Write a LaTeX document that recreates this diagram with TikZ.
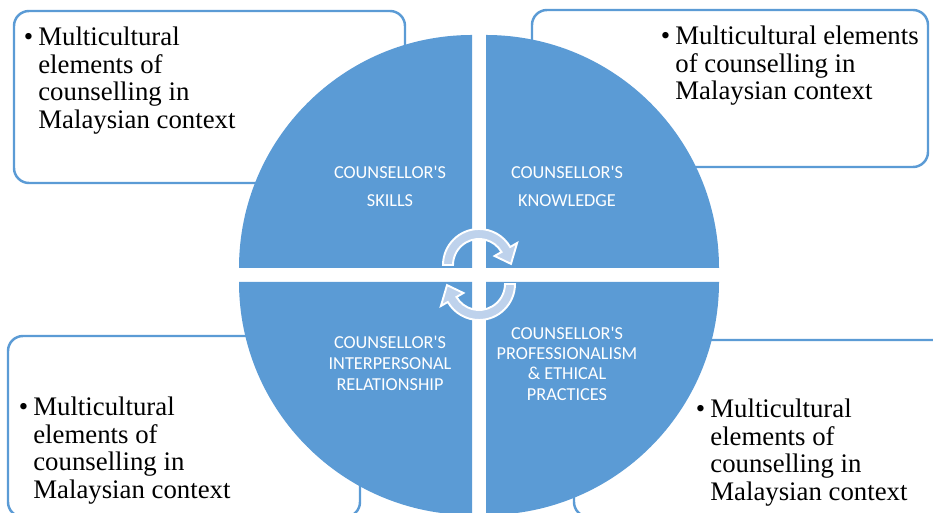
\documentclass[tikz,border=0pt]{standalone}
\usepackage{fontspec}
\setmainfont{Liberation Serif}
\newfontfamily\quadfont{Carlito}
\definecolor{quadblue}{RGB}{91,155,213}
\definecolor{cyclefill}{RGB}{190,210,236}
\newcommand{\bitem}{\llap{\textbullet\hspace{0.1cm}}}

\begin{document}
\begin{tikzpicture}[x=0.02cm,y=0.02cm]
\tikzstyle{infobox} = [draw=quadblue, line width=1.4pt, rounded corners=0.3cm, fill=white]
\tikzstyle{bullettext} = [anchor=north west, inner sep=0pt, align=left, font=\fontsize{15.25}{15.8}\selectfont]
\tikzstyle{quadtext} = [text=white, align=center, inner sep=0pt]
\tikzstyle{cyclearrow} = [fill=cyclefill, draw=white, line width=1.1pt]

\useasboundingbox (0,0) rectangle (933,513);
\clip (0,0) rectangle (933,513);

% the four text boxes sit behind the circle
\draw[infobox] (14,330) rectangle (405,502);
\draw[infobox] (532,346) rectangle (928,503);
\draw[infobox] (8,-4) rectangle (360,177);
\draw[infobox] (574,-4) rectangle (950,173);

\node[bullettext] (tl) at (38,486.5) {\bitem Multicultural\\elements of\\counselling in\\Malaysian context};
\node[bullettext] (tr) at (675,487.5) {\bitem Multicultural elements\\of counselling in\\Malaysian context};
\node[bullettext] (bl) at (33,116.5) {\bitem Multicultural\\elements of\\counselling in\\Malaysian context};
\node[bullettext] (br) at (710,114.5) {\bitem Multicultural\\elements of\\counselling in\\Malaysian context};

% quarter discs
\foreach \cx/\cy/\a in {486/245/0, 472/245/90, 472/231/180, 486/231/270}
  \fill[quadblue] (\cx,\cy) -- ++(\a:233) arc (\a:\a+90:233) -- cycle;

\node[quadtext, font=\quadfont\fontsize{10.4}{15.9}\selectfont] (skills) at (390,327) {COUNSELLOR'S\\SKILLS};
\node[quadtext, font=\quadfont\fontsize{10.4}{15.9}\selectfont] (knowledge) at (567,327) {COUNSELLOR'S\\KNOWLEDGE};
\node[quadtext, font=\quadfont\fontsize{10.4}{11.9}\selectfont] (relation) at (390,150) {COUNSELLOR'S\\INTERPERSONAL\\RELATIONSHIP};
\node[quadtext, font=\quadfont\fontsize{10.4}{11.6}\selectfont] (ethics) at (567,149.5) {COUNSELLOR'S\\PROFESSIONALISM\\\& ETHICAL\\PRACTICES};

% circular arrows in the middle
\foreach \cy/\a in {248/0, 229/180}
  \filldraw[cyclearrow] ([shift=(\a+180:36)]479,\cy) arc (\a+180:\a+30:36)
    -- ([shift=(\a+30:44)]479,\cy) -- ([shift=(\a+2:32)]479,\cy)
    -- ([shift=(\a+30:18)]479,\cy) -- ([shift=(\a+30:26)]479,\cy)
    arc (\a+30:\a+180:26) -- cycle;

\end{tikzpicture}
\end{document}
